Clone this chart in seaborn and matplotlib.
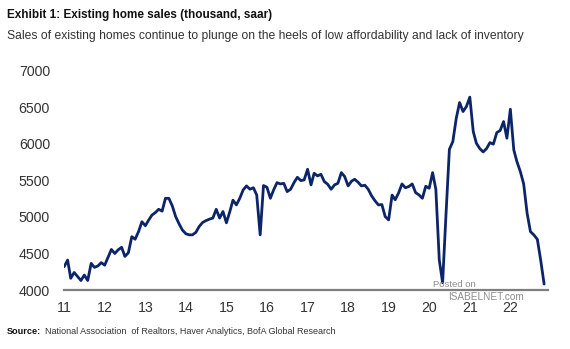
import matplotlib
matplotlib.use("Agg")
import matplotlib.pyplot as plt
import seaborn as sns
import pandas as pd

# Existing home sales, thousand, saar (monthly, Jan 2011 - Nov 2022)
sales_2011_2013 = [4320, 4410, 4160, 4240, 4185, 4130, 4205, 4130, 4365, 4310, 4330, 4375,
                   4340, 4450, 4555, 4500, 4550, 4585, 4460, 4510, 4730, 4695, 4800, 4935,
                   4880, 4960, 5025, 5060, 5105, 5080, 5255, 5255, 5150, 5005, 4905, 4820]
sales_2014_2016 = [4770, 4755, 4755, 4790, 4870, 4925, 4950, 4970, 4985, 5105, 4985, 5075,
                   4920, 5075, 5230, 5165, 5255, 5370, 5425, 5380, 5400, 5300, 4755, 5430,
                   5407, 5256, 5370, 5470, 5452, 5460, 5347, 5379, 5470, 5543, 5498, 5507]
sales_2017_2019 = [5653, 5439, 5598, 5562, 5585, 5484, 5448, 5379, 5439, 5461, 5607, 5553,
                   5425, 5490, 5516, 5475, 5425, 5434, 5379, 5288, 5220, 5165, 5170, 5005,
                   4960, 5300, 5235, 5330, 5452, 5400, 5416, 5452, 5333, 5302, 5256, 5420]
sales_2020_2022 = [5393, 5607, 5380, 4411, 4100, 5050, 5925, 6032, 6352, 6566, 6443, 6511,
                   6640, 6169, 6009, 5936, 5890, 5936, 6018, 5997, 6155, 6183, 6306, 6078,
                   6475, 5918, 5758, 5621, 5452, 5050, 4799, 4754, 4694, 4411, 4082]
sales = sales_2011_2013 + sales_2014_2016 + sales_2017_2019 + sales_2020_2022
months = pd.date_range("2011-01-01", periods=len(sales), freq="MS")

tick_years = list(range(2011, 2023))
tick_labels = ["11", "12", "13", "14", "15", "16", "17", "18", "19", "20", "21", "22"]
y_ticks = [4000, 4500, 5000, 5500, 6000, 6500, 7000]

title = "Exhibit 1: Existing home sales (thousand, saar)"
subtitle = ("Sales of existing homes continue to plunge on the heels of low "
            "affordability and lack of inventory")
source_label = "Source:"
source_text = "National Association  of Realtors, Haver Analytics, BofA Global Research"

sns.set_theme(style="white")
plt.rcParams["font.family"] = ["Liberation Sans", "DejaVu Sans"]

df = pd.DataFrame({"month": months, "sales": sales})

fig = plt.figure(figsize=(5.70, 3.49), dpi=100)
ax = fig.add_axes([0.112, 0.169, 0.849, 0.628])

sns.lineplot(data=df, x="month", y="sales", ax=ax, color="#0c2468", linewidth=2.0)

ax.set_ylim(4000, 7000)
ax.set_xlim(pd.Timestamp("2010-12-29"), pd.Timestamp("2022-12-04"))
ax.set_yticks(y_ticks)
ax.set_yticklabels([str(v) for v in y_ticks])
ax.set_xticks([pd.Timestamp(f"{y}-01-01") for y in tick_years])
ax.set_xticklabels(tick_labels)
ax.set_xlabel("")
ax.set_ylabel("")
ax.tick_params(axis="both", length=0, labelsize=10.2, colors="#333333")
ax.tick_params(axis="y", pad=10)
ax.tick_params(axis="x", pad=8)
for s in ["top", "right", "left"]:
    ax.spines[s].set_visible(False)
ax.spines["bottom"].set_color("#7f7f7f")
ax.spines["bottom"].set_linewidth(1.6)
ax.grid(False)

fig.text(0.012, 0.957, title, fontsize=8.5, fontweight="bold", color="#111111", va="center")
fig.text(0.012, 0.897, subtitle, fontsize=8.7, color="#333333", va="center")

src = fig.text(0.012, 0.050, source_label, fontsize=6.6, fontweight="bold",
               color="#111111", va="center")
fig.canvas.draw()
bb = src.get_window_extent(renderer=fig.canvas.get_renderer())
x_next = (bb.x1 + 4) / fig.bbox.width
fig.text(x_next, 0.050, source_text, fontsize=6.5, color="#333333", va="center")

# watermark
fig.text(0.760, 0.186, "Posted on", fontsize=6.8, color="#8c8c8c", va="center")
fig.text(0.787, 0.150, "ISABELNET.com", fontsize=7.2, color="#8c8c8c", va="center")

fig.savefig("out.png", dpi=100)
